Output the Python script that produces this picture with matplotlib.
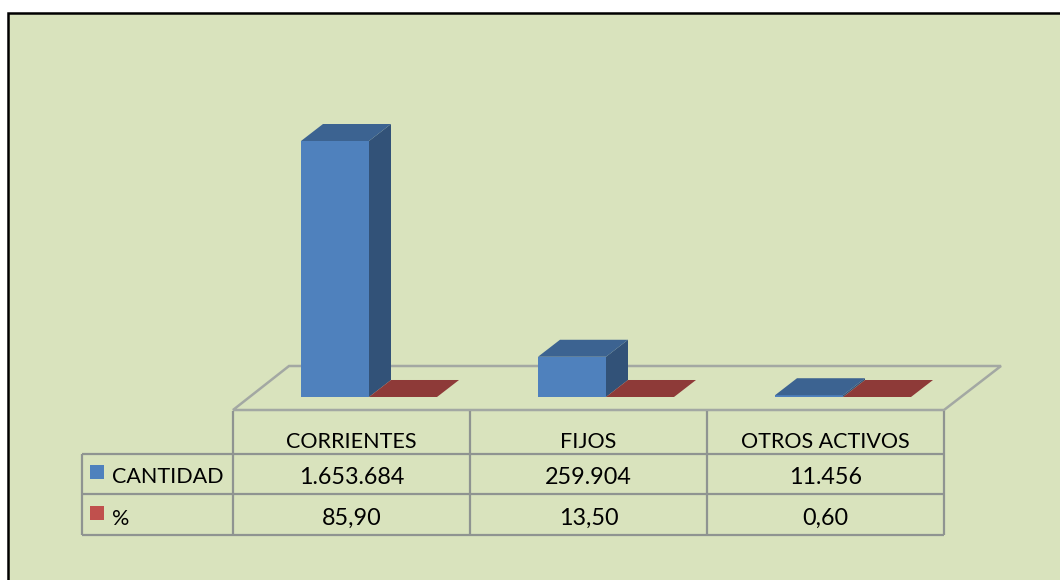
import matplotlib
matplotlib.use("Agg")
import matplotlib.pyplot as plt
from matplotlib.patches import Polygon, Rectangle

categories = ["CORRIENTES", "FIJOS", "OTROS ACTIVOS"]
cantidad = [1653684, 259904, 11456]
porcentaje = [85.90, 13.50, 0.60]
cantidad_labels = ["1.653.684", "259.904", "11.456"]
porcentaje_labels = ["85,90", "13,50", "0,60"]

BG = "#d9e3bd"
GRID = "#8f9491"
W, H = 1060, 580

plt.rcParams["font.family"] = ["Lato", "DejaVu Sans"]
fig = plt.figure(figsize=(W / 100, H / 100), dpi=100, facecolor="white")

# page layer in pixels, y going down
page = fig.add_axes([0, 0, 1, 1])
page.set_xlim(0, W)
page.set_ylim(H, 0)
page.axis("off")
# frame runs off the right and bottom of the picture
page.add_patch(Rectangle((8, 13), 1100, 620, fc=BG, ec="black", lw=1.8))

# floor of the 3d plot
page.add_patch(Polygon([(233, 410), (289, 366), (1001, 366), (944, 410)],
                       closed=True, fc="none", ec="#a3a8a3", lw=1.8))

# bars live in their own axes: one unit of x is one table column
base_y = 397
top_y = 141
bars = fig.add_axes([233 / W, 1 - base_y / H, 711 / W, (base_y - top_y) / H])
bars.set_xlim(0, 3)
bars.set_ylim(0, max(cantidad))
bars.axis("off")

col_px = 237
px_y = max(cantidad) / (base_y - top_y)
depth_x = 22 / col_px
depth_y = 17 * px_y
bar_w = 68 / col_px
offset = 68 / col_px


def draw_bar(x, value, front, side, top):
    bars.bar(x, value, bar_w, align="edge", color=front, linewidth=0, clip_on=False)
    bars.add_patch(Polygon([(x + bar_w, 0), (x + bar_w + depth_x, depth_y),
                            (x + bar_w + depth_x, value + depth_y), (x + bar_w, value)],
                           closed=True, fc=side, ec="none", clip_on=False))
    bars.add_patch(Polygon([(x, value), (x + depth_x, value + depth_y),
                            (x + bar_w + depth_x, value + depth_y), (x + bar_w, value)],
                           closed=True, fc=top, ec="none", clip_on=False))


for i in range(len(categories)):
    draw_bar(i + offset, cantidad[i], "#4f81bd", "#325278", "#3c6391")
    draw_bar(i + offset + bar_w, porcentaje[i], "#c0504d", "#7a3230", "#8e3a38")

# data table
cols = [233, 470, 707, 944]
rows = [454, 494, 535]
for x in cols:
    page.plot([x, x], [411, rows[-1]], color=GRID, lw=1.6, solid_capstyle="butt")
for y in rows:
    page.plot([82, 944], [y, y], color=GRID, lw=1.6, solid_capstyle="butt")
page.plot([82, 82], [rows[0], rows[-1]], color=GRID, lw=1.6, solid_capstyle="butt")

head_style = dict(fontsize=15.5, color="black", ha="center", va="baseline")
num_style = dict(fontsize=16.8, color="black", ha="center", va="baseline")
for i, x in enumerate(cols[:-1]):
    cx = x + col_px / 2
    page.text(cx, 448, categories[i], **head_style)
    page.text(cx, 484, cantidad_labels[i], **num_style)
    page.text(cx, 525, porcentaje_labels[i], **num_style)

# row headers with their legend keys
page.add_patch(Rectangle((90, 465), 14, 14, fc="#4f81bd", ec="none"))
page.add_patch(Rectangle((90, 506), 14, 14, fc="#c0504d", ec="none"))
page.text(112, 483, "CANTIDAD", fontsize=15.5, ha="left", va="baseline")
page.text(112, 525, "%", fontsize=15.5, ha="left", va="baseline")

fig.savefig("out.png", dpi=100, facecolor="white")
